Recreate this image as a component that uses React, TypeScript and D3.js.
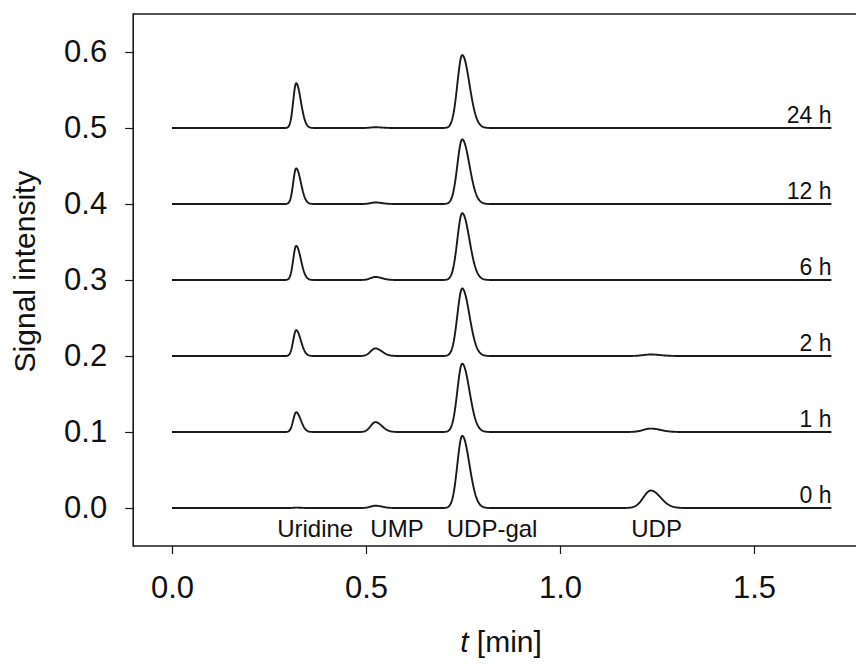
import React, { useEffect, useRef } from "react";
import * as d3 from "d3";

// ---- data ----
const samples = ["0 h", "1 h", "2 h", "6 h", "12 h", "24 h"];
const sampleOffsets = [0.0, 0.1, 0.2, 0.3, 0.4, 0.5];

const compounds = ["Uridine", "UMP", "UDP-gal", "UDP"];
const retentionTimes = [0.32, 0.524, 0.748, 1.234];
const sigmaLeft = [0.0075, 0.012, 0.0125, 0.019];
const sigmaRight = [0.012, 0.017, 0.0185, 0.025];
const compoundLabelAt = [0.369, 0.58, 0.825, 1.249];

// peak heights per sample (0 h, 1 h, 2 h, 6 h, 12 h, 24 h)
const uridineHeights = [0.0005, 0.026, 0.034, 0.045, 0.047, 0.059];
const umpHeights = [0.003, 0.013, 0.01, 0.004, 0.002, 0.001];
const udpGalHeights = [0.095, 0.09, 0.089, 0.088, 0.085, 0.096];
const udpHeights = [0.023, 0.0045, 0.002, 0.0, 0.0, 0.0];

const xTicks = [0.0, 0.5, 1.0, 1.5];
const yTicks = [0.0, 0.1, 0.2, 0.3, 0.4, 0.5, 0.6];
const runStart = 0.0;
const runEnd = 1.7;

const W = 858;
const H = 664;
const FONT = "'Liberation Sans', Arial, Helvetica, sans-serif";
const INK = "#1a1a1a";

export default function App() {
  const ref = useRef<SVGSVGElement | null>(null);

  useEffect(() => {
    const svg = d3.select(ref.current);
    svg.selectAll("*").remove();

    const x = d3.scaleLinear().domain([0, 1.5]).range([172, 754]);
    const y = d3.scaleLinear().domain([-0.05, 0.65]).range([546, 14]);
    const frameLeft = x(-0.1);
    const frameTop = y(0.65);
    const frameBottom = y(-0.05);

    const heightTable = [uridineHeights, umpHeights, udpGalHeights, udpHeights];

    const signal = (t: number, s: number) => {
      let v = sampleOffsets[s];
      for (let c = 0; c < compounds.length; c++) {
        const h = heightTable[c][s];
        if (!h) continue;
        const d = t - retentionTimes[c];
        const sg = d < 0 ? sigmaLeft[c] : sigmaRight[c];
        v += h * Math.exp(-(d * d) / (2 * sg * sg));
      }
      return v;
    };

    const ts = d3.range(runStart, runEnd + 1e-9, 0.0015);

    // frame (open on the right, as in the cropped original)
    [frameTop, frameBottom].forEach((fy) => {
      svg
        .append("line")
        .attr("x1", frameLeft)
        .attr("x2", W - 2)
        .attr("y1", fy)
        .attr("y2", fy)
        .attr("stroke", INK)
        .attr("stroke-width", 1.6);
    });
    svg
      .append("line")
      .attr("x1", frameLeft)
      .attr("x2", frameLeft)
      .attr("y1", frameTop)
      .attr("y2", frameBottom)
      .attr("stroke", INK)
      .attr("stroke-width", 1.6)
      .attr("stroke-linecap", "square");

    // axes
    const yAxis = d3
      .axisLeft(y)
      .tickValues(yTicks)
      .tickFormat(d3.format(".1f"))
      .tickSize(8)
      .tickPadding(18);
    const gy = svg
      .append("g")
      .attr("transform", `translate(${frameLeft},0)`)
      .call(yAxis);
    gy.select(".domain").remove();
    gy.selectAll(".tick line").attr("stroke", INK).attr("stroke-width", 1.2);
    gy.selectAll(".tick text")
      .attr("font-family", FONT)
      .attr("font-size", 31)
      .attr("fill", "#111");

    const xAxis = d3
      .axisBottom(x)
      .tickValues(xTicks)
      .tickFormat(d3.format(".1f"))
      .tickSize(8)
      .tickPadding(22);
    const gx = svg
      .append("g")
      .attr("transform", `translate(0,${frameBottom})`)
      .call(xAxis);
    gx.select(".domain").remove();
    gx.selectAll(".tick line").attr("stroke", INK).attr("stroke-width", 1.2);
    gx.selectAll(".tick text")
      .attr("font-family", FONT)
      .attr("font-size", 31)
      .attr("fill", "#111");

    // traces
    samples.forEach((name, s) => {
      const l = d3
        .line<number>()
        .x((t) => x(t))
        .y((t) => y(signal(t, s)))
        .curve(d3.curveLinear);
      svg
        .append("path")
        .attr("d", l(ts) as string)
        .attr("fill", "none")
        .attr("stroke", INK)
        .attr("stroke-width", 1.9)
        .attr("stroke-linejoin", "round");
      svg
        .append("text")
        .attr("x", x(runEnd))
        .attr("y", y(sampleOffsets[s]) - 5.5)
        .attr("text-anchor", "end")
        .attr("font-family", FONT)
        .attr("font-size", 23)
        .attr("fill", "#111")
        .text(name);
    });

    // compound labels
    compounds.forEach((c, i) => {
      svg
        .append("text")
        .attr("x", x(compoundLabelAt[i]))
        .attr("y", y(0) + 29)
        .attr("text-anchor", "middle")
        .attr("font-family", FONT)
        .attr("font-size", 24)
        .attr("fill", "#111")
        .text(c);
    });

    // axis titles
    svg
      .append("text")
      .attr("transform", `translate(35,271.5) rotate(-90)`)
      .attr("text-anchor", "middle")
      .attr("font-family", FONT)
      .attr("font-size", 30)
      .attr("fill", "#111")
      .text("Signal intensity");

    const xt = svg
      .append("text")
      .attr("x", 501)
      .attr("y", 652)
      .attr("text-anchor", "middle")
      .attr("font-family", FONT)
      .attr("font-size", 30)
      .attr("fill", "#111");
    xt.append("tspan").attr("font-style", "italic").text("t");
    xt.append("tspan").text(" [min]");
  }, []);

  return (
    <svg
      ref={ref}
      width={W}
      height={H}
      style={{ position: "absolute", left: 0, top: 0, background: "#fff", overflow: "hidden" }}
    />
  );
}
